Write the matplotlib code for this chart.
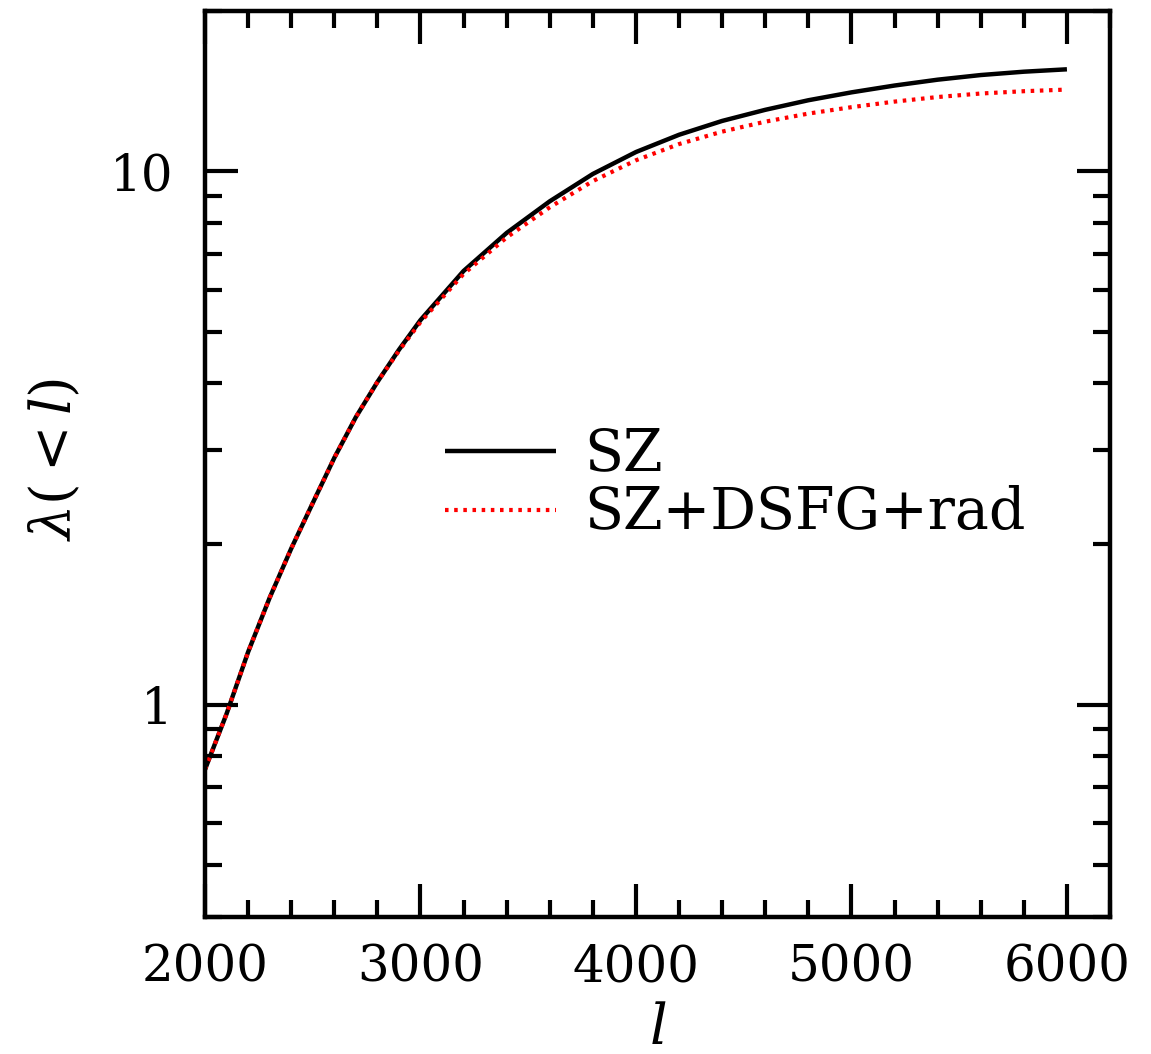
import matplotlib
matplotlib.use("Agg")
import matplotlib.pyplot as plt
from matplotlib.ticker import FixedLocator, NullFormatter, FixedFormatter

ell = [2000, 2100, 2200, 2300, 2400, 2500, 2600, 2700, 2800, 2900, 3000,
       3200, 3400, 3600, 3800, 4000, 4200, 4400, 4600, 4800, 5000,
       5200, 5400, 5600, 5800, 6000]
lam_sz = [0.756, 0.961, 1.255, 1.586, 1.961, 2.387, 2.901, 3.458, 4.025, 4.626, 5.258,
          6.50, 7.66, 8.78, 9.88, 10.86, 11.70, 12.42, 13.03, 13.58, 14.05,
          14.47, 14.84, 15.14, 15.36, 15.52]
lam_all = [0.756, 0.961, 1.255, 1.586, 1.961, 2.387, 2.901, 3.458, 4.025, 4.606, 5.213,
           6.416, 7.512, 8.555, 9.58, 10.48, 11.24, 11.86, 12.38, 12.82, 13.18,
           13.50, 13.77, 13.98, 14.12, 14.22]

series_labels = ["SZ", "SZ+DSFG+rad"]
x_major = [2000, 3000, 4000, 5000, 6000]
x_minor = [v for v in range(2000, 6201, 200) if v not in x_major]
y_major = [1, 10]
y_major_labels = ["1", "10"]
y_minor = [0.4, 0.5, 0.6, 0.7, 0.8, 0.9, 2, 3, 4, 5, 6, 7, 8, 9, 20]

plt.rcParams['font.family'] = ['DejaVu Serif']
plt.rcParams['mathtext.fontset'] = 'dejavuserif'

fig = plt.figure(figsize=(11.51, 10.54), dpi=100)
ax = fig.add_axes([0.1781, 0.1300, 0.9644 - 0.1781, 0.9900 - 0.1300])

ax.plot(ell, lam_sz, color='black', lw=3.2, solid_capstyle='butt', label=series_labels[0])
ax.plot(ell, lam_all, color='#ff0000', lw=3.0, linestyle=(0, (0.85, 1.35)),
        dash_capstyle='butt', label=series_labels[1])

ax.set_yscale('log')
ax.set_xlim(2000, 6200)
ax.set_ylim(0.4, 20)

ax.xaxis.set_major_locator(FixedLocator(x_major))
ax.xaxis.set_minor_locator(FixedLocator(x_minor))
ax.set_xticklabels([str(v) for v in x_major])
ax.yaxis.set_major_locator(FixedLocator(y_major))
ax.yaxis.set_major_formatter(FixedFormatter(y_major_labels))
ax.yaxis.set_minor_locator(FixedLocator(y_minor))
ax.yaxis.set_minor_formatter(NullFormatter())

for s in ax.spines.values():
    s.set_linewidth(3.2)

ax.tick_params(which='both', direction='in', top=True, right=True, width=3.0, color='black')
ax.tick_params(which='major', length=24)
ax.tick_params(which='minor', length=12)
ax.tick_params(axis='x', which='major', pad=19, labelsize=36)
ax.tick_params(axis='y', which='major', pad=23, labelsize=36)

ax.set_xlabel(r'$l$', fontsize=40)
ax.set_ylabel(r'$\lambda(<l)$', fontsize=40)
ax.xaxis.set_label_coords(0.5, -0.093)
ax.yaxis.set_label_coords(-0.135, 0.505)

leg = ax.legend(loc='upper left', bbox_to_anchor=(0.265, 0.541), frameon=False,
                fontsize=41, handlelength=1.95, handletextpad=0.5, labelspacing=0.05,
                borderaxespad=0, borderpad=0)

fig.savefig('out.png', dpi=100)
